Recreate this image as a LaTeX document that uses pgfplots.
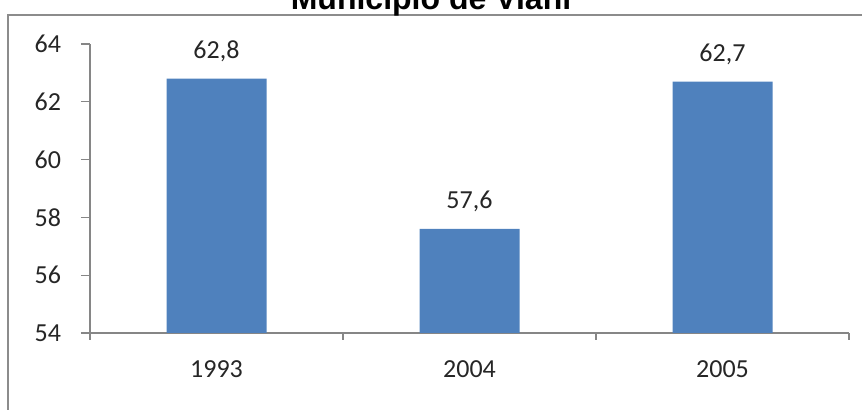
\documentclass[border=0pt]{standalone}
\usepackage{pgfplots}
\pgfplotsset{compat=1.18}
\usepackage{fontspec}
\setmainfont{Carlito}
\newfontfamily\titlefont{Liberation Sans}
\definecolor{barblue}{HTML}{4F81BD}
\definecolor{axisgray}{HTML}{868686}
\definecolor{framegray}{HTML}{8C8C8C}

\begin{document}
\begin{tikzpicture}
\begin{axis}[
    at={(0,0)}, anchor=south west,
    scale only axis,
    width=379.5pt, height=144.5pt,
    xmin=-0.5, xmax=2.5,
    ymin=54, ymax=64,
    ytick={54,56,58,60,62,64},
    xtick={0,1,2},
    xticklabels={1993,2004,2005},
    minor xtick={-0.5,0.5,1.5,2.5},
    axis x line=bottom, axis y line=left,
    axis line style={axisgray, line width=0.6pt, -},
    tick style={axisgray, line width=0.6pt},
    tick align=outside,
    major tick length=4.5pt,
    minor tick length=3.5pt,
    x tick style={draw=none},
    minor x tick style={draw=axisgray},
    every tick label/.append style={font=\fontsize{13}{15}\selectfont, text=black!85},
    yticklabel style={xshift=-6.5pt},
    xticklabel style={yshift=-6pt},
    /pgf/number format/assume math mode=true,
    ybar, bar width=50pt,
    nodes near coords,
    nodes near coords style={font=\fontsize{13}{15}\selectfont, text=black!85,
        /pgf/number format/fixed, /pgf/number format/precision=1,
        /pgf/number format/fixed zerofill, /pgf/number format/use comma},
    every node near coord/.append style={yshift=5pt},
]
\addplot[fill=barblue, draw=none] coordinates {(0,62.8) (1,57.6) (2,62.7)};
\end{axis}
\draw[framegray, line width=1pt] (-41pt,-60pt) rectangle (400pt,159pt);
\node[font=\titlefont\bfseries\fontsize{16}{19}\selectfont, anchor=base] at (170.5pt,161.5pt) {Municipio de Viani};
\pgfresetboundingbox
\useasboundingbox (-45pt,-38.5pt) rectangle (386pt,166.5pt);
\end{tikzpicture}
\end{document}
